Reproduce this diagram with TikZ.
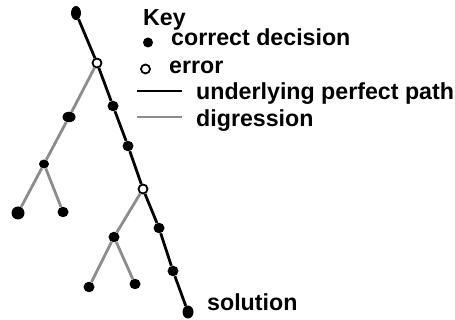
\documentclass[tikz,border=0pt]{standalone}
\usepackage{fontspec}
\setmainfont{Liberation Sans}
\usetikzlibrary{shapes.geometric}
\begin{document}
\begin{tikzpicture}[x=1pt,y=-1pt,
  dot/.style={ellipse,fill=black,inner sep=0pt,minimum width=11pt,minimum height=10.5pt},
  bigdot/.style={dot,minimum width=13pt,minimum height=13pt},
  err/.style={circle,draw=black,line width=1.8pt,fill=white,inner sep=0pt,minimum size=9pt},
  main/.style={line width=2.8pt,black},
  dig/.style={line width=2.8pt,gray!90},
  lbl/.style={anchor=base west,inner sep=0pt,font=\fontsize{23.2}{27}\selectfont\bfseries}]
\useasboundingbox (0,0) rectangle (455,320);
% main path nodes
\node[dot,minimum width=10pt,minimum height=14pt] (p0) at (76,13) {};
\node[err] (e1) at (97,63) {};
\node[dot] (p1) at (113,106) {};
\node[dot] (p2) at (128,146) {};
\node[err] (e2) at (143,189) {};
\node[dot] (p3) at (159,228) {};
\node[dot] (p4) at (173,271) {};
\node[dot,minimum width=11pt,minimum height=13pt] (p5) at (188,312) {};
% digression 1
\node[dot,minimum width=13pt] (a1) at (69,117) {};
\node[dot,minimum width=10pt,minimum height=9pt] (a2) at (44,164) {};
\node[bigdot] (a3) at (18,213) {};
\node[dot] (a4) at (63,212) {};
% digression 2
\node[dot] (b1) at (114,237) {};
\node[dot] (b2) at (89,287) {};
\node[dot] (b3) at (135,284) {};
\draw[main] (p0) -- (e1) -- (p1) -- (p2) -- (e2) -- (p3) -- (p4) -- (p5);
\draw[dig] (e1) -- (a1) -- (a2) -- (a3);
\draw[dig] (a2) -- (a4);
\draw[dig] (e2) -- (b1) -- (b2);
\draw[dig] (b1) -- (b3);
% key
\node[lbl] (key) at (143,26) {Key};
\node[dot,minimum width=10pt,minimum height=10pt] (kd) at (148,42.5) {};
\node[lbl] (kcd) at (171,46) {correct decision};
\node[err] (ke) at (145.5,69) {};
\node[lbl] (ker) at (169,74) {error};
\coordinate (l1a) at (137,91);
\coordinate (l1b) at (182,91);
\draw[main] (l1a) -- (l1b);
\node[lbl] (kup) at (196,100) {underlying perfect path};
\coordinate (l2a) at (137,117);
\coordinate (l2b) at (182,117);
\draw[dig] (l2a) -- (l2b);
\node[lbl] (kdg) at (196,127) {digression};
\node[lbl] (sol) at (207,310) {solution};
\end{tikzpicture}
\end{document}
